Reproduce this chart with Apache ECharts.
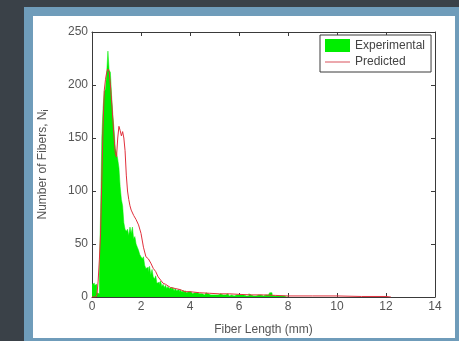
<!DOCTYPE html>
<html>
<head>
<meta charset="utf-8">
<script src="https://cdn.jsdelivr.net/npm/echarts@6/dist/echarts.min.js"></script>
<style>
  html, body { margin: 0; padding: 0; background: #3a4148; }
  #wrap { position: relative; width: 459px; height: 341px; overflow: hidden; }
  .frame { position: absolute; left: 24px; top: 7px; width: 460px; height: 360px; background: #6f9cba; }
  .panel { position: absolute; left: 33px; top: 16px; width: 422px; height: 322px; background: #fff; }
  #main { position: absolute; left: 0; top: 0; width: 459px; height: 341px; }
</style>
</head>
<body>
<div id="wrap">
  <div class="frame"></div>
  <div class="panel"></div>
  <div id="main"></div>
</div>
<script>
// x ticks and y ticks (mm / count)
const xTicks = [0, 2, 4, 6, 8, 10, 12, 14];
const yTicks = [0, 50, 100, 150, 200, 250];

// experimental histogram, bins of 0.05 mm starting at 0
const binWidth = 0.05;
const expCounts = [
  12, 13, 11, 12, 4, 3, 20, 80, 150, 178, 194, 196, 212, 232, 214, 212, 190, 172, 158, 140,
  136, 130, 122, 104, 92, 86, 70, 64, 62, 64, 58, 66, 60, 66, 55, 57, 50, 47, 44, 40,
  38, 36, 38, 30, 27, 28, 23, 29, 21, 26, 19, 17, 20, 13, 14, 11, 15, 10, 12, 9,
  11, 8, 10, 8, 9, 7, 9, 6, 8, 6, 7, 5, 7, 5, 6, 4, 6, 4, 5, 4,
  5, 4, 3, 4, 3, 4, 3, 3, 4, 3, 3, 2, 3, 4, 3, 3, 2, 3, 2, 3,
  2, 3, 2, 2, 3, 2, 2, 1, 2, 2, 3, 2, 1, 2, 2, 1, 2, 2, 1, 2,
  1, 2, 1, 2, 1, 1, 2, 1, 3, 2, 1, 1, 2, 1, 1, 2, 1, 2, 1, 1,
  1, 2, 1, 2, 3, 4, 4, 2, 1, 1, 1, 0, 1, 0, 1, 0, 1, 0, 0, 1
];

// predicted curve
const predX = [0, 0.15, 0.2, 0.25, 0.3, 0.35, 0.4, 0.45, 0.5, 0.55, 0.6, 0.65, 0.7, 0.75, 0.8, 0.85, 0.9, 0.95,
  1.0, 1.05, 1.1, 1.15, 1.2, 1.25, 1.3, 1.35, 1.4, 1.45, 1.5, 1.55, 1.6, 1.7, 1.8, 1.9, 2.0, 2.1, 2.2, 2.3,
  2.4, 2.5, 2.6, 2.7, 2.8, 2.9, 3.0, 3.2, 3.4, 3.6, 3.8, 4.0, 4.4, 4.8, 5.2, 5.6, 6.0, 6.5, 7.0, 7.5, 8.0,
  9.0, 10.0, 11.0, 12.0, 12.2];
const predY = [0, 0, 2, 15, 35, 60, 110, 160, 195, 205, 212, 215, 213, 200, 185, 168, 150, 136,
  132, 150, 161, 157, 152, 156, 150, 138, 115, 100, 92, 86, 82, 77, 73, 68, 60, 47, 38, 36,
  32, 27, 24, 19, 16, 13, 12, 9, 8, 7, 5, 5, 4, 3.5, 3, 3, 2.5, 2, 2, 1.5, 1,
  1, 1, 0.5, 0.5, 0];

const expData = expCounts.map((v, i) => [+(i * binWidth).toFixed(2), v]);
expData.push([+(expCounts.length * binWidth).toFixed(2), 0]);
const predData = predX.map((x, i) => [x, predY[i]]);

const font = 'Liberation Sans, Arial, sans-serif';
const axisColor = '#3a3a3a';
const labelColor = '#555';

const xBase = {
  type: 'value',
  min: xTicks[0],
  max: xTicks[xTicks.length - 1],
  interval: xTicks[1] - xTicks[0],
  axisLine: { show: true, onZero: false, lineStyle: { color: axisColor, width: 1 } },
  axisTick: { show: true, inside: true, length: 4, lineStyle: { color: axisColor } },
  splitLine: { show: false }
};
const yBase = {
  type: 'value',
  min: yTicks[0],
  max: yTicks[yTicks.length - 1],
  interval: yTicks[1] - yTicks[0],
  axisLine: { show: true, onZero: false, lineStyle: { color: axisColor, width: 1 } },
  axisTick: { show: true, inside: true, length: 4, lineStyle: { color: axisColor } },
  splitLine: { show: false }
};

const chart = echarts.init(document.getElementById('main'), null, { renderer: 'canvas' });
chart.setOption({
  backgroundColor: 'transparent',
  animation: false,
  textStyle: { fontFamily: font },
  grid: { left: 92, top: 32, right: 24, bottom: 40 },
  legend: {
    left: 320,
    top: 35,
    orient: 'vertical',
    padding: [4, 6, 4, 5],
    itemGap: 4,
    itemWidth: 25,
    itemHeight: 13,
    borderColor: axisColor,
    borderWidth: 1,
    backgroundColor: '#fff',
    textStyle: { fontFamily: font, fontSize: 12, color: '#444' },
    data: [
      { name: 'Experimental', icon: 'rect', itemStyle: { color: '#00ee00' } },
      { name: 'Predicted', icon: 'path://M0,5 L25,5 L25,6 L0,6 Z', itemStyle: { color: '#d9505a' } }
    ]
  },
  xAxis: [
    Object.assign({}, xBase, {
      position: 'bottom',
      name: 'Fiber Length (mm)',
      nameLocation: 'middle',
      nameGap: 27,
      nameTextStyle: { fontFamily: font, fontSize: 12, color: labelColor },
      axisLabel: { fontFamily: font, fontSize: 12, color: labelColor, margin: 4 }
    }),
    Object.assign({}, xBase, { position: 'top', axisLabel: { show: false } })
  ],
  yAxis: [
    Object.assign({}, yBase, {
      position: 'left',
      name: 'Number of Fibers, N{sub|i}',
      nameLocation: 'middle',
      nameGap: 42,
      nameTextStyle: {
        fontFamily: font, fontSize: 12, color: labelColor,
        rich: { sub: { fontFamily: font, fontSize: 9, color: labelColor, verticalAlign: 'bottom', padding: [6, 0, 0, 0] } }
      },
      axisLabel: { fontFamily: font, fontSize: 12, color: labelColor, margin: 4 }
    }),
    Object.assign({}, yBase, { position: 'right', axisLabel: { show: false } })
  ],
  series: [
    {
      name: 'Experimental',
      type: 'line',
      step: 'end',
      data: expData,
      symbol: 'none',
      lineStyle: { color: '#00ee00', width: 0.5 },
      itemStyle: { color: '#00ee00' },
      areaStyle: { color: '#00ee00', opacity: 1 },
      z: 2
    },
    {
      name: 'Predicted',
      type: 'line',
      data: predData,
      symbol: 'none',
      lineStyle: { color: '#e0303c', width: 1 },
      itemStyle: { color: '#d9505a' },
      z: 3
    }
  ]
});
</script>
</body>
</html>
